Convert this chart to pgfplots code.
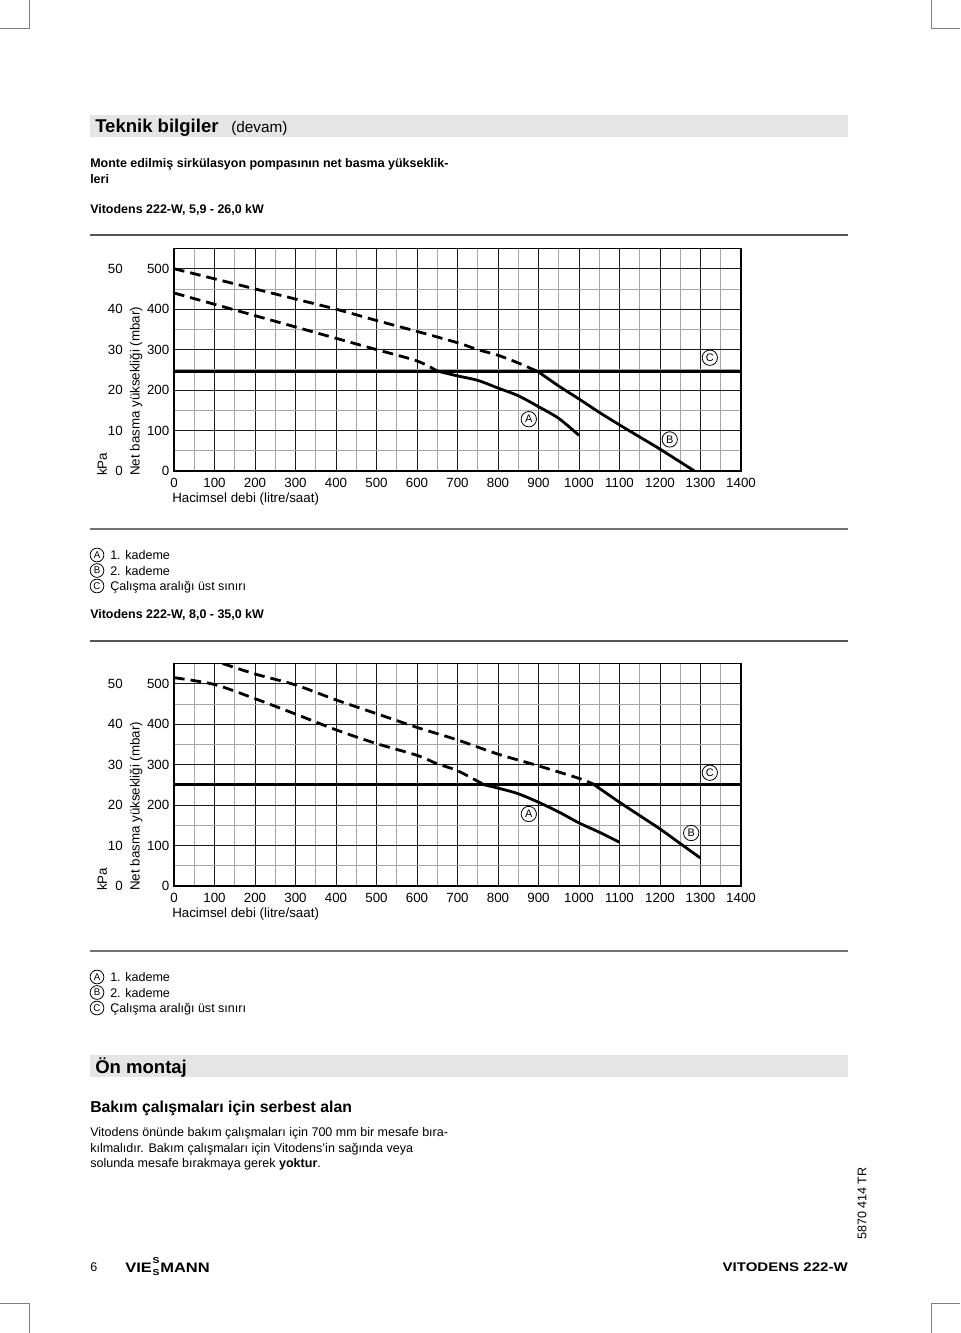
\documentclass[border=0pt]{standalone}
\usepackage{pgfplots}
\pgfplotsset{compat=1.18}
\usepackage{fontspec}
\setmainfont{Liberation Sans}
\newfontfamily\widefont[FakeStretch=1.2]{Liberation Sans}
\newcommand{\fsz}[1]{\fontsize{#1}{#1}\selectfont}

\definecolor{barfill}{HTML}{E5E5E5}
\definecolor{rulegray}{HTML}{555555}

\pgfplotsset{
  pumpaxis/.style={
    scale only axis, width=425.25pt, height=166.9pt,
    xmin=0, xmax=1400, ymin=0, ymax=550,
    xtick={0,100,...,1400}, ytick={0,100,...,500},
    minor xtick={50,150,...,1350}, minor ytick={50,150,...,550},
    grid=both,
    major grid style={black!90, line width=0.75pt},
    minor grid style={black!35, line width=0.6pt},
    major tick length=0pt, minor tick length=0pt,
    axis line style={black, line width=0.8pt},
    tick label style={font=\fsz{10pt}},
    xticklabel style={yshift=-2pt},
    /pgf/number format/assume math mode=true,
    /pgf/number format/1000 sep={},
    scaled ticks=false,
    clip mode=individual,
  },
  dashcurve/.style={black, line width=2.1pt, dash pattern=on 8pt off 4.5pt},
  solidcurve/.style={black, line width=2.1pt},
}
\tikzset{
  kpa/.style={anchor=east, xshift=-38.25pt, inner sep=0pt, font=\fsz{10pt}},
  circ/.style={draw, circle, line width=0.6pt, inner sep=0pt, minimum size=11.5pt, font=\fsz{8.2pt}, fill=white},
  lcirc/.style={draw, circle, line width=0.6pt, inner sep=0pt, minimum size=10.3pt, font=\fsz{7.3pt}},
  txt/.style={anchor=base west, inner sep=0pt},
}

\begin{document}
\begin{tikzpicture}
\begin{scope}[x=0.75pt,y=-0.75pt]
  % crop marks
  \draw[gray, line width=0.75pt] (29,0)--(29,29)--(0,29);
  \draw[gray, line width=0.75pt] (931,0)--(931,29)--(960,29);
  \draw[gray, line width=0.75pt] (0,1303)--(29,1303)--(29,1333);
  \draw[gray, line width=0.75pt] (960,1303)--(931,1303)--(931,1333);

  % header
  \fill[barfill] (90,115) rectangle (848,137);
  \node[txt, font=\fsz{13.9pt}\bfseries] at (95,133) {Teknik bilgiler};
  \node[txt, font=\fsz{11.5pt}] at (231,133) {(devam)};
  \node[txt, font=\fsz{9.35pt}\bfseries] at (90,167.5) {Monte edilmiş sirkülasyon pompasının net basma yükseklik-};
  \node[txt, font=\fsz{9.35pt}\bfseries] at (90,183.5) {leri};
  \node[txt, font=\fsz{9.35pt}\bfseries] at (90,214) {Vitodens 222-W, 5,9 - 26,0 kW};
  \draw[rulegray, line width=1.5pt] (90,235)--(848,235);

  % chart 1 labels
  \node[rotate=90, anchor=west, inner sep=0pt, font=\fsz{10pt}] at (102,476) {kPa};
  \node[rotate=90, anchor=west, inner sep=0pt, font=\fsz{10pt}] at (136,476) {Net basma yüksekliği (mbar)};
  \node[anchor=west, inner sep=0pt, font=\fsz{10pt}] at (172,499) {Hacimsel debi (litre/saat)};

  \draw[black!55, line width=1.2pt] (90,529)--(848,529);
  \node[lcirc] at (97,555) {A};
  \node[lcirc] at (97,570.5) {B};
  \node[lcirc] at (97,586) {C};
  \node[txt, font=\fsz{9.4pt}] at (110,559.5) {1. kademe};
  \node[txt, font=\fsz{9.4pt}] at (110,575) {2. kademe};
  \node[txt, font=\fsz{9.4pt}] at (110,590.5) {Çalışma aralığı üst sınırı};

  \node[txt, font=\fsz{9.35pt}\bfseries] at (90,618) {Vitodens 222-W, 8,0 - 35,0 kW};
  \draw[rulegray, line width=1.5pt] (90,641)--(848,641);

  % chart 2 labels
  \node[rotate=90, anchor=west, inner sep=0pt, font=\fsz{10pt}] at (102,891) {kPa};
  \node[rotate=90, anchor=west, inner sep=0pt, font=\fsz{10pt}] at (136,891) {Net basma yüksekliği (mbar)};
  \node[anchor=west, inner sep=0pt, font=\fsz{10pt}] at (172,914) {Hacimsel debi (litre/saat)};

  \draw[black!55, line width=1.2pt] (90,951)--(848,951);
  \node[lcirc] at (97,977) {A};
  \node[lcirc] at (97,992.5) {B};
  \node[lcirc] at (97,1008) {C};
  \node[txt, font=\fsz{9.4pt}] at (110,981.5) {1. kademe};
  \node[txt, font=\fsz{9.4pt}] at (110,997) {2. kademe};
  \node[txt, font=\fsz{9.4pt}] at (110,1012.5) {Çalışma aralığı üst sınırı};

  % second section
  \fill[barfill] (90,1055) rectangle (848,1077);
  \node[txt, font=\fsz{13.9pt}\bfseries] at (95,1073) {Ön montaj};
  \node[txt, font=\fsz{11.85pt}\bfseries] at (90,1112.5) {Bakım çalışmaları için serbest alan};
  \node[txt, font=\fsz{9.4pt}] at (90,1136.5) {Vitodens önünde bakım çalışmaları için 700 mm bir mesafe bıra-};
  \node[txt, font=\fsz{9.4pt}] at (90,1152.5) {kılmalıdır. Bakım çalışmaları için Vitodens'in sağında veya};
  \node[txt, font=\fsz{9.4pt}] at (90,1167.5) {solunda mesafe bırakmaya gerek \textbf{yoktur}.};

  \node[rotate=90, anchor=west, inner sep=0pt, font=\fsz{9.4pt}] at (862,1240) {5870 414 TR};

  % footer
  \node[txt, font=\fsz{9.4pt}] at (90,1271.5) {6};
  \node[txt, font=\widefont\fsz{10.3pt}\bfseries] at (125,1272)
    {VIE\hspace{0.6pt}\raisebox{-2.6pt}{\fsz{6.5pt}\shortstack[c]{S\\[1.6pt]S}}\hspace{0.6pt}MANN};
  \node[anchor=base east, inner sep=0pt, font=\widefont\fsz{9.4pt}\bfseries] at (848,1271.5) {VITODENS 222-W};
\end{scope}

% ---------- chart 1 ----------
\begin{axis}[pumpaxis, at={(130.5pt,-353.25pt)}, anchor=south west]
  \addplot[solidcurve, line width=2.3pt] coordinates {(0,245) (1400,245)};
  \addplot[dashcurve, smooth] coordinates {
    (0,440) (100,412) (200,384) (300,356) (400,328) (500,300) (600,272) (650,247)};
  \addplot[solidcurve, smooth] coordinates {
    (650,247) (700,235) (750,224) (800,205) (850,186) (900,159) (950,130) (1000,88)};
  \addplot[dashcurve, smooth] coordinates {
    (0,500) (100,475) (200,450) (300,425) (400,400) (500,372) (600,345) (700,317) (750,300) (800,286) (850,267) (900,245)};
  \addplot[solidcurve, smooth] coordinates {
    (900,245) (950,210) (1000,178) (1050,145) (1100,114) (1150,84) (1200,54) (1285,0)};
  \node[circ] at (axis cs:876,128) {A};
  \node[circ] at (axis cs:1224,78) {B};
  \node[circ] at (axis cs:1323,280) {C};
  \node[kpa] at (axis cs:0,0) {0};
  \node[kpa] at (axis cs:0,100) {10};
  \node[kpa] at (axis cs:0,200) {20};
  \node[kpa] at (axis cs:0,300) {30};
  \node[kpa] at (axis cs:0,400) {40};
  \node[kpa] at (axis cs:0,500) {50};
\end{axis}

% ---------- chart 2 ----------
\begin{axis}[pumpaxis, at={(130.5pt,-664.5pt)}, anchor=south west]
  \addplot[solidcurve, line width=2.3pt] coordinates {(0,250) (1400,250)};
  \addplot[dashcurve, smooth] coordinates {
    (0,515) (100,498) (200,463) (300,425) (400,386) (500,352) (600,323) (650,302) (700,285) (766,250)};
  \addplot[solidcurve, smooth] coordinates {
    (766,250) (800,242) (850,228) (900,207) (950,183) (1000,156) (1050,133) (1100,108)};
  \addplot[dashcurve, smooth] coordinates {
    (120,550) (200,524) (300,497) (400,460) (500,426) (600,392) (700,361) (800,326) (900,297) (1000,266) (1035,252)};
  \addplot[solidcurve, smooth] coordinates {
    (1035,252) (1100,207) (1150,174) (1200,141) (1250,105) (1300,69)};
  \node[circ] at (axis cs:876,178) {A};
  \node[circ] at (axis cs:1277,131) {B};
  \node[circ] at (axis cs:1323,280) {C};
  \node[kpa] at (axis cs:0,0) {0};
  \node[kpa] at (axis cs:0,100) {10};
  \node[kpa] at (axis cs:0,200) {20};
  \node[kpa] at (axis cs:0,300) {30};
  \node[kpa] at (axis cs:0,400) {40};
  \node[kpa] at (axis cs:0,500) {50};
\end{axis}

\begin{scope}[x=0.75pt,y=-0.75pt]
  \pgfresetboundingbox
  \path[use as bounding box] (0,0) rectangle (960,1333);
\end{scope}
\end{tikzpicture}
\end{document}
